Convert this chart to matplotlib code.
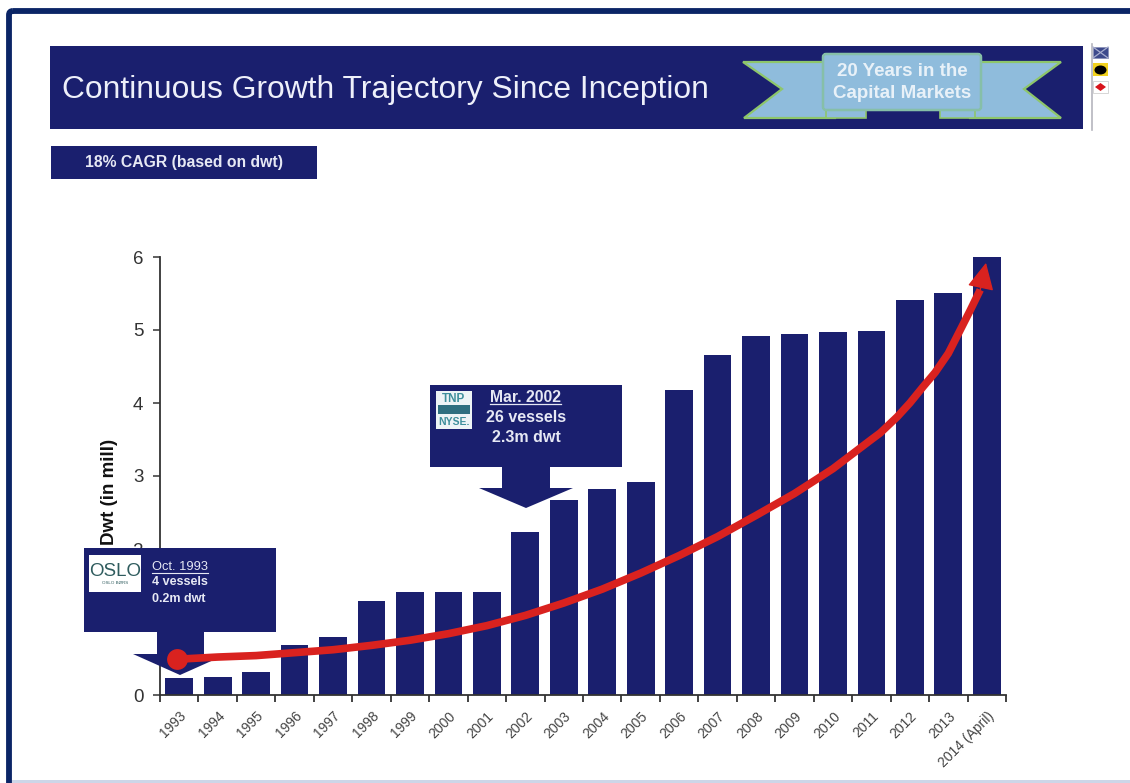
import matplotlib
matplotlib.use("Agg")
import matplotlib.pyplot as plt
from matplotlib.patches import Rectangle, Polygon, FancyBboxPatch, Ellipse

plt.rcParams['font.family'] = ['Liberation Sans', 'DejaVu Sans']

# fleet size by year, million dwt
years = ["1993", "1994", "1995", "1996", "1997", "1998", "1999", "2000", "2001", "2002", "2003",
         "2004", "2005", "2006", "2007", "2008", "2009", "2010", "2011", "2012", "2013", "2014 (April)"]
dwt = [0.23, 0.25, 0.32, 0.68, 0.80, 1.29, 1.41, 1.41, 1.41, 2.23, 2.67,
       2.82, 2.92, 4.18, 4.66, 4.92, 4.95, 4.97, 4.98, 5.41, 5.51, 6.00]
y_ticks = [0, 1, 2, 3, 4, 5, 6]

# growth curve on top of the bars, position along the year axis and dwt
trend_pos = [-0.05, 1, 2, 3, 4, 5, 6, 7, 8, 9, 10, 11, 12, 13, 14, 15, 16, 17, 18,
             18.23, 18.67, 19, 19.34, 19.66, 20, 20.31, 20.57, 20.83]
trend_dwt = [0.49, 0.52, 0.54, 0.58, 0.62, 0.68, 0.75, 0.84, 0.95, 1.09, 1.26, 1.45, 1.67, 1.91,
             2.17, 2.46, 2.76, 3.10, 3.50, 3.59, 3.81, 4.00, 4.22, 4.42, 4.68, 5.00, 5.27, 5.55]
arrow_tip = (20.98, 5.92)

NAVY = "#1a1f6e"
FRAME = "#0b2566"
RED = "#d9221f"
SKY = "#8fbcdc"
GREEN = "#8ec66a"
TEAL = "#3f8f9c"

W, H = 1130, 783
fig = plt.figure(figsize=(W / 100, H / 100), dpi=100, facecolor="white")

# bar chart, placed in pixel terms
left, right, top, bottom = 160, 1006, 257, 695
ax = fig.add_axes([left / W, 1 - bottom / H, (right - left) / W, (bottom - top) / H])
ax.bar(range(len(years)), dwt, width=0.72, color=NAVY, zorder=2)
ax.set_xlim(-0.5, len(years) - 0.5)
ax.set_ylim(0, 6)
ax.set_yticks(y_ticks)
ax.tick_params(axis='y', labelsize=13.5, labelcolor="#333333", length=5, width=1.2, color="#444444", pad=7)
ax.set_xticks(range(len(years)))
ax.set_xticklabels(years, rotation=45, ha='right', rotation_mode='anchor', fontsize=10, color="#444444")
ax.tick_params(axis='x', length=0, pad=10)
ax.set_xticks([i - 0.5 for i in range(len(years) + 1)], minor=True)
ax.tick_params(axis='x', which='minor', length=5, width=1.2, color="#222222")
for side in ['top', 'right']:
    ax.spines[side].set_visible(False)
for side in ['left', 'bottom']:
    ax.spines[side].set_linewidth(1.3)
    ax.spines[side].set_color("#333333")
ax.set_ylabel("Dwt (in mill)", fontsize=13.5, fontweight='bold', color="#111111")
ax.yaxis.set_label_coords(-0.05, 0.463)

# slide furniture sits on a full-figure layer in pixel coordinates
deco = fig.add_axes([0, 0, 1, 1], zorder=3)
deco.set_xlim(0, W)
deco.set_ylim(H, 0)
deco.axis('off')
deco.patch.set_alpha(0)


def box(x0, y0, x1, y1, **kw):
    deco.add_patch(Rectangle((x0, y0), x1 - x0, y1 - y0, **kw))


def poly(pts, **kw):
    deco.add_patch(Polygon(pts, closed=True, **kw))


# outer frame
deco.add_patch(FancyBboxPatch((9, 11), W + 40, H + 40, boxstyle="round,pad=0,rounding_size=4",
                              fc="none", ec=FRAME, lw=4.2))
box(12, 780, W, H, fc="#cdd6e8", ec="none")

# header banner
box(50, 46, 1083, 129, fc=NAVY, ec="none")
deco.text(62, 90, "Continuous Growth Trajectory Since Inception", color="#eef0fa", fontsize=22.9,
          va='center', ha='left')

# ribbon
for pts in ([(743, 62), (835, 62), (835, 118), (744, 118), (782, 89)],
            [(1061, 62), (970, 62), (970, 118), (1061, 118), (1024, 89)]):
    poly(pts, fc=SKY, ec=GREEN, lw=1.6, joinstyle='miter')
box(826, 108, 866, 118, fc=SKY, ec=GREEN, lw=1.2)
box(940, 108, 975, 118, fc=SKY, ec=GREEN, lw=1.2)
deco.add_patch(FancyBboxPatch((823, 54), 158, 56, boxstyle="round,pad=0,rounding_size=3",
                              fc=SKY, ec="#86bfa8", lw=1.8))
deco.text(902, 72, "20 Years in the", color="#e8f1f8", fontsize=13.5, fontweight='bold', ha='center', va='center')
deco.text(902, 94, "Capital Markets", color="#e8f1f8", fontsize=13.5, fontweight='bold', ha='center', va='center')

# signal flags
deco.plot([1092, 1092], [44, 130], color="#b5b5bd", lw=1.2)
box(1093, 47, 1108, 58, fc="#3d4a8c", ec="#8c93b8", lw=0.6)
deco.plot([1093, 1108], [47, 58], color="#a8aed0", lw=0.9)
deco.plot([1093, 1108], [58, 47], color="#a8aed0", lw=0.9)
box(1093, 63, 1108, 76, fc="#f2d21f", ec="none")
deco.add_patch(Ellipse((1100.5, 70), 12, 9, fc="black", ec="none"))
box(1093, 81, 1108, 93, fc="white", ec="#d0d0d0", lw=0.6)
poly([(1095, 87), (1100.5, 83), (1106, 87), (1100.5, 91)], fc="#d8141c", ec="none")

# CAGR tag
box(51, 146, 317, 179, fc=NAVY, ec="none")
deco.text(184, 163, "18% CAGR (based on dwt)", color="#e6e8f4", fontsize=11.3, fontweight='bold',
          ha='center', va='center')

# 1993 callout
box(84, 548, 276, 632, fc=NAVY, ec="none")
poly([(157, 631), (204, 631), (204, 654), (227, 654), (180, 675), (133, 654), (157, 654)], fc=NAVY, ec="none")
box(89, 555, 141, 592, fc="white", ec="none")
deco.text(115, 571, "OSLO", color="#2f5c5e", fontsize=13.5, ha='center', va='center')
deco.text(115, 583, "OSLO BØRS", color="#2f5c5e", fontsize=3.2, ha='center', va='center')
deco.text(152, 567, "Oct. 1993", color="#e6e8f4", fontsize=9.3, ha='left', va='center')
deco.plot([152, 208], [572.5, 572.5], color="#e6e8f4", lw=0.8)
deco.text(152, 582, "4 vessels", color="#e6e8f4", fontsize=9, fontweight='bold', ha='left', va='center')
deco.text(152, 599, "0.2m dwt", color="#e6e8f4", fontsize=9, fontweight='bold', ha='left', va='center')

# 2002 callout
box(430, 385, 622, 467, fc=NAVY, ec="none")
poly([(502, 466), (550, 466), (550, 488), (573, 488), (526, 508), (479, 488), (502, 488)], fc=NAVY, ec="none")
box(436, 391, 472, 429, fc="#eef4f6", ec="none")
deco.text(454, 398.5, "TNP", color=TEAL, fontsize=8.5, fontweight='bold', ha='center', va='center')
box(438, 405, 470, 414, fc="#2f6f80", ec="none")
deco.text(454, 422, "NYSE.", color=TEAL, fontsize=7.5, fontweight='bold', ha='center', va='center')
deco.text(526, 397, "Mar. 2002", color="#e6e8f4", fontsize=11.3, fontweight='bold', ha='center', va='center')
deco.plot([490, 561], [404, 404], color="#e6e8f4", lw=0.9)
deco.text(526, 418, "26 vessels", color="#e6e8f4", fontsize=11.5, fontweight='bold', ha='center', va='center')
deco.text(526, 438, "2.3m dwt", color="#e6e8f4", fontsize=11.5, fontweight='bold', ha='center', va='center')

# growth curve, drawn in the bar chart's data coordinates above the callouts
deco.plot(trend_pos, trend_dwt, transform=ax.transData, color=RED, lw=5.5, solid_capstyle='butt',
          solid_joinstyle='round', clip_on=False, zorder=6)
deco.plot(trend_pos[0], trend_dwt[0], 'o', transform=ax.transData, color=RED, ms=15, mew=0,
          clip_on=False, zorder=7)
deco.annotate("", xy=arrow_tip, xycoords=ax.transData,
              xytext=(trend_pos[-1], trend_dwt[-1]), textcoords=ax.transData,
              arrowprops=dict(arrowstyle="-|>,head_length=1.2,head_width=0.6", mutation_scale=14,
                              color=RED, lw=1, shrinkA=0, shrinkB=0), zorder=8)

fig.savefig("out.png", dpi=100, facecolor="white")
